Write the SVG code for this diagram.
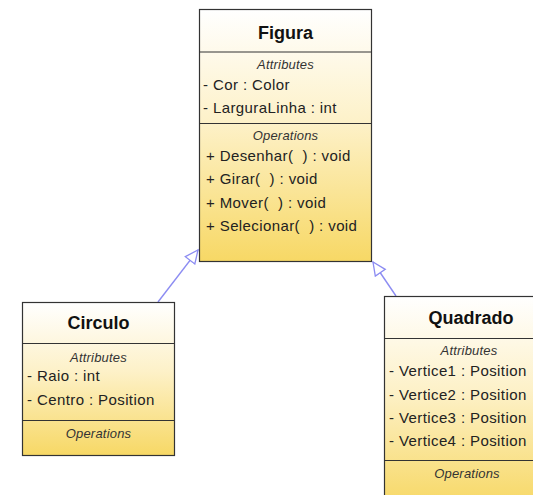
<svg xmlns="http://www.w3.org/2000/svg" width="533" height="495" viewBox="0 0 533 495">
  <defs>
    <linearGradient id="fill" x1="0" y1="0" x2="0" y2="1">
      <stop offset="0" stop-color="#ffffff"/>
      <stop offset="0.45" stop-color="#fdf1c8"/>
      <stop offset="1" stop-color="#f7d865"/>
    </linearGradient>
    <marker id="gen" markerUnits="userSpaceOnUse" markerWidth="16" markerHeight="14" refX="14" refY="7" orient="auto">
      <path d="M1,1 L14,7 L1,13 Z" fill="#ffffff" stroke="#8c8cf2" stroke-width="1.3"/>
    </marker>
    <style>
      .box { fill: url(#fill); stroke: #333333; stroke-width: 1.2; }
      .div { stroke: #333333; stroke-width: 1.2; }
      .title { font-family: "Liberation Sans", Arial, sans-serif; font-size: 18px; font-weight: bold; fill: #111111; text-anchor: middle; }
      .sec { font-family: "Liberation Sans", Arial, sans-serif; font-size: 13px; font-style: italic; fill: #333333; text-anchor: middle; letter-spacing: 0.2px; }
      .mem { font-family: "Liberation Sans", Arial, sans-serif; font-size: 15px; fill: #222222; white-space: pre; letter-spacing: 0.4px; }
      .edge { stroke: #8c8cf2; stroke-width: 1.4; fill: none; }
    </style>
  </defs>
  <rect width="533" height="495" fill="#ffffff"/>

  <g id="connectors">
    <line class="edge" x1="158" y1="302" x2="198" y2="250" marker-end="url(#gen)"/>
    <line class="edge" x1="396" y1="296" x2="373" y2="262" marker-end="url(#gen)"/>
  </g>

  <g id="Figura">
    <rect class="box" x="199.5" y="9.5" width="172" height="252"/>
    <line class="div" x1="199.5" y1="52" x2="371.5" y2="52"/>
    <line class="div" x1="199.5" y1="123.5" x2="371.5" y2="123.5"/>
    <text class="title" x="285.5" y="38.5">Figura</text>
    <text class="sec" x="285.5" y="69">Attributes</text>
    <text class="mem" x="203" y="90">- Cor : Color</text>
    <text class="mem" x="203" y="113">- LarguraLinha : int</text>
    <text class="sec" x="285.5" y="139.5">Operations</text>
    <text class="mem" x="206" y="160.5">+ Desenhar(  ) : void</text>
    <text class="mem" x="206" y="184">+ Girar(  ) : void</text>
    <text class="mem" x="206" y="207.5">+ Mover(  ) : void</text>
    <text class="mem" x="206" y="231">+ Selecionar(  ) : void</text>
  </g>

  <g id="Circulo">
    <rect class="box" x="22.5" y="302.5" width="152" height="153"/>
    <line class="div" x1="22.5" y1="343.5" x2="174.5" y2="343.5"/>
    <line class="div" x1="22.5" y1="420.5" x2="174.5" y2="420.5"/>
    <text class="title" x="98.5" y="329">Circulo</text>
    <text class="sec" x="98.5" y="362">Attributes</text>
    <text class="mem" x="27" y="381">- Raio : int</text>
    <text class="mem" x="27" y="405">- Centro : Position</text>
    <text class="sec" x="98.5" y="438">Operations</text>
  </g>

  <g id="Quadrado">
    <rect class="box" x="384.5" y="296.5" width="174" height="210"/>
    <line class="div" x1="384.5" y1="338.5" x2="558.5" y2="338.5"/>
    <line class="div" x1="384.5" y1="460.5" x2="558.5" y2="460.5"/>
    <text class="title" x="471" y="323.5">Quadrado</text>
    <text class="sec" x="469" y="355">Attributes</text>
    <text class="mem" x="389" y="376">- Vertice1 : Position</text>
    <text class="mem" x="389" y="399.5">- Vertice2 : Position</text>
    <text class="mem" x="389" y="422.5">- Vertice3 : Position</text>
    <text class="mem" x="389" y="446">- Vertice4 : Position</text>
    <text class="sec" x="467" y="478">Operations</text>
  </g>
</svg>
